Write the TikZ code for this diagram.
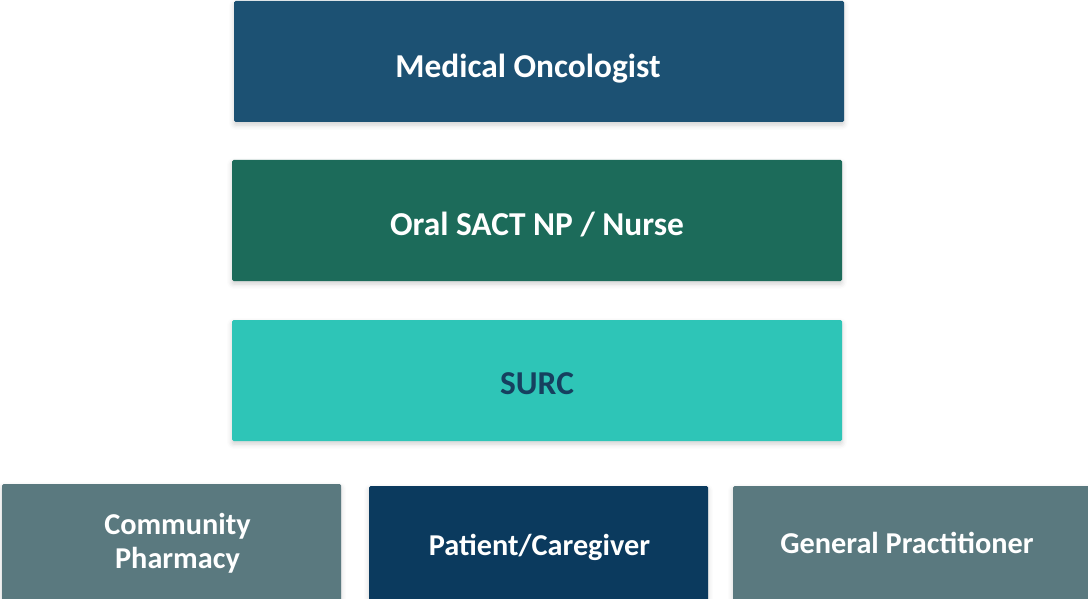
\documentclass[tikz,border=0pt]{standalone}
\usepackage{fontspec}
\setmainfont{Carlito}
\usepackage{tikz}
\usetikzlibrary{positioning, shadows.blur}

\definecolor{oncblue}{HTML}{1C5173}
\definecolor{nursegreen}{HTML}{1C6B5A}
\definecolor{surcteal}{HTML}{2EC5B7}
\definecolor{surcnavy}{HTML}{16405F}
\definecolor{slategray}{HTML}{5A797F}
\definecolor{patnavy}{HTML}{0B3A5E}

% move a label inside its box without changing the box size
\newcommand{\nudge}[3]{\raisebox{#2}[\height][\depth]{\hspace*{#1}#3\hspace*{-#1}}}

\begin{document}
\begin{tikzpicture}[x=1pt, y=-1pt,
  role/.style={rectangle, rounded corners=1.5pt, text=white, align=center,
               inner sep=0pt,
               blur shadow={shadow xshift=0pt, shadow yshift=-3pt,
                            shadow blur radius=5pt, shadow opacity=18}},
  big/.style={font=\fontsize{33.4}{37}\selectfont\bfseries},
  small/.style={font=\fontsize{30.3}{34}\selectfont\bfseries}]

\useasboundingbox (0,0) rectangle (1088,599);

% ---- Care team stack ----------------------------------------------------
\node[role, big, fill=oncblue, minimum width=610pt, minimum height=121pt]
      (onc) at (539,61.5) {\nudge{-11pt}{-7pt}{Medical Oncologist}};
\node[role, big, fill=nursegreen, minimum width=610pt, minimum height=121pt]
      (nurse) at (537,220.5) {\nudge{0pt}{-4pt}{Oral SACT NP / Nurse}};
\node[role, big, fill=surcteal, text=surcnavy, minimum width=610pt, minimum height=121pt]
      (surc) at (537,380.5) {\nudge{0pt}{-3pt}{SURC}};

% ---- Bottom row ---------------------------------------------------------
\node[role, small, fill=slategray, minimum width=339pt, minimum height=118pt]
      (pharm) at (171.5,543)
      {\nudge{6pt}{-2pt}{\begin{tabular}{@{}c@{}}Community\\Pharmacy\end{tabular}}};
\node[role, small, fill=patnavy, minimum width=339pt, minimum height=116pt]
      (patient) at (538.5,544) {\nudge{1pt}{-3pt}{Patient/Caregiver}};
\node[role, small, fill=slategray, minimum width=360pt, minimum height=116pt]
      (gp) at (913,544) {\nudge{-6pt}{1pt}{General Practitioner}};

\end{tikzpicture}
\end{document}
